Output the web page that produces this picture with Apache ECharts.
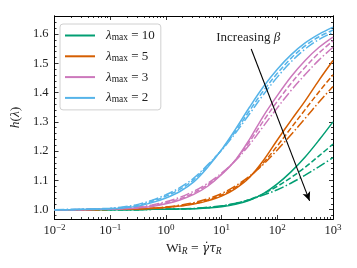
<!DOCTYPE html>
<html><head><meta charset="utf-8">
<script src="https://cdn.jsdelivr.net/npm/echarts@6/dist/echarts.min.js"></script>
<style>html,body{margin:0;padding:0;background:#fff}#c{width:357px;height:268px}</style>
</head><body><div id="c"></div>
<script>
// Wi_R sample points (quarter decades)
const wi = [0.01, 0.01778, 0.03162, 0.05623, 0.1, 0.1778, 0.3162, 0.5623, 1, 1.778, 3.162, 5.623, 10, 17.78, 31.62, 56.23, 100, 177.8, 316.2, 562.3, 1000];
const lambdaMax = ['10', '5', '3', '2'];
// h(lambda) for each lambda_max, three beta values (solid, dashed, dash-dot)
const g1 = [1,1,1,1,1,1,1.000,1.001,1.001,1.002,1.003,1.006,1.010,1.018,1.032,1.055,1.088,1.130,1.180,1.238,1.300];
const g2 = [1,1,1,1,1,1,1.000,1.001,1.001,1.002,1.004,1.007,1.012,1.021,1.035,1.054,1.080,1.110,1.145,1.184,1.224];
const g3 = [1,1,1,1,1,1,1.000,1.001,1.002,1.003,1.004,1.008,1.013,1.022,1.034,1.050,1.068,1.091,1.118,1.147,1.178];
const o1 = [1.000,1.000,1.000,1.000,1.001,1.001,1.002,1.004,1.007,1.012,1.019,1.030,1.046,1.072,1.110,1.168,1.238,1.306,1.372,1.443,1.510];
const o2 = [1.000,1.000,1.000,1.000,1.001,1.002,1.003,1.005,1.008,1.013,1.021,1.033,1.050,1.076,1.112,1.160,1.218,1.280,1.342,1.403,1.461];
const o3 = [1.000,1.000,1.000,1.001,1.001,1.002,1.003,1.005,1.009,1.015,1.024,1.037,1.055,1.081,1.114,1.155,1.204,1.257,1.312,1.368,1.421];
const p1 = [1.000,1.000,1.000,1.001,1.002,1.003,1.006,1.011,1.020,1.033,1.052,1.080,1.120,1.170,1.240,1.320,1.390,1.455,1.510,1.555,1.590];
const p2 = [1.000,1.000,1.000,1.001,1.002,1.004,1.007,1.013,1.023,1.037,1.057,1.085,1.122,1.170,1.232,1.303,1.370,1.432,1.487,1.536,1.577];
const p3 = [1.000,1.000,1.001,1.002,1.003,1.005,1.009,1.016,1.027,1.042,1.063,1.090,1.125,1.168,1.222,1.285,1.348,1.408,1.462,1.512,1.555];
const b1 = [1.000,1.000,1.001,1.002,1.003,1.006,1.012,1.024,1.040,1.062,1.095,1.145,1.205,1.275,1.350,1.420,1.480,1.530,1.570,1.600,1.624];
const b2 = [1.000,1.000,1.001,1.002,1.004,1.008,1.015,1.028,1.046,1.069,1.102,1.150,1.205,1.268,1.338,1.406,1.466,1.518,1.560,1.591,1.614];
const b3 = [1.000,1.001,1.001,1.003,1.005,1.010,1.018,1.032,1.051,1.075,1.108,1.153,1.203,1.262,1.327,1.393,1.453,1.506,1.549,1.582,1.606];
// tick values
const xMajor = [0.01, 0.1, 1, 10, 100, 1000];
const xMinor = [];
for (let d = 0.01; d < 1000; d *= 10) for (let k = 2; k <= 9; k++) xMinor.push(+(d * k).toPrecision(3));
const yMajor = [1.0, 1.1, 1.2, 1.3, 1.4, 1.5, 1.6];
const yMinor = [0.98, 1.02, 1.04, 1.06, 1.08, 1.12, 1.14, 1.16, 1.18, 1.22, 1.24, 1.26, 1.28, 1.32, 1.34, 1.36, 1.38, 1.42, 1.44, 1.46, 1.48, 1.52, 1.54, 1.56, 1.58, 1.62, 1.64, 1.66];
// annotation (data units)
const arrowStart = [34, 1.549];
const arrowEnd = [380, 1.030];
const textPos = [30, 1.587];

const families = [
  { lam: '10', color: '#029E73', data: [g1, g2, g3] },
  { lam: '5', color: '#D55E00', data: [o1, o2, o3] },
  { lam: '3', color: '#CC78BC', data: [p1, p2, p3] },
  { lam: '2', color: '#56B4E9', data: [b1, b2, b3] }
];
const dashTypes = ['solid', [5.5, 2.4], [9.6, 2.4, 1.5, 2.4]];
const SERIF = 'Liberation Serif';
const MATH = 'DejaVu Serif';

const series = [];
families.forEach(f => {
  f.data.forEach((vals, k) => {
    series.push({
      type: 'line',
      name: k === 0 ? f.lam : f.lam + '_' + k,
      xAxisIndex: 0, yAxisIndex: 0,
      data: wi.map((x, i) => [x, vals[i]]),
      showSymbol: false, symbol: 'none',
      smooth: 0.35,
      clip: true,
      color: f.color,
      lineStyle: { width: 1.5, type: dashTypes[k], color: f.color },
      emphasis: { disabled: true },
      animation: false
    });
  });
});
series.push({
  type: 'line', name: 'annot', xAxisIndex: 0, yAxisIndex: 0, data: [],
  animation: false,
  markLine: {
    silent: true, animation: false,
    symbol: ['none', 'arrow'], symbolSize: [6, 9],
    lineStyle: { color: '#000', width: 1.1, type: 'solid' },
    label: { show: false },
    data: [[{ coord: arrowStart }, { coord: arrowEnd }]]
  },
  markPoint: {
    silent: true, animation: false, symbol: 'circle', symbolSize: 0,
    data: [{ coord: textPos }],
    label: {
      show: true, position: 'inside',
      formatter: '{a|Increasing }{b|β}',
      rich: {
        a: { fontFamily: SERIF, fontSize: 13, color: '#222' },
        b: { fontFamily: SERIF, fontSize: 13, fontStyle: 'italic', color: '#222' }
      }
    }
  }
});

const lineAxis = { show: true, lineStyle: { color: '#000', width: 1 } };
function xAx(pos, ticks, len, labels) {
  return {
    type: 'log', logBase: 10, min: 0.01, max: 1000, position: pos, gridIndex: 0,
    axisLine: lineAxis,
    axisTick: { show: true, inside: true, length: len, customValues: ticks, lineStyle: { color: '#000', width: 0.8 } },
    splitLine: { show: false }, minorTick: { show: false },
    axisLabel: labels ? {
      show: true, customValues: xMajor, margin: 4,
      formatter: v => {
        const e = Math.round(Math.log10(v));
        return '{b|10}{s|' + (e < 0 ? '−' + (-e) : e) + '}';
      },
      rich: {
        b: { fontFamily: SERIF, fontSize: 12.5, color: '#222', lineHeight: 15 },
        s: { fontFamily: SERIF, fontSize: 9, color: '#222', lineHeight: 7, verticalAlign: 'top' }
      }
    } : { show: false },
    name: labels ? '{r|Wi}{s|R}{r| = }{i|γ̇τ}{s|R}' : '',
    nameLocation: 'middle', nameGap: 19,
    nameTextStyle: {
      rich: {
        r: { fontFamily: SERIF, fontSize: 13.5, color: '#222', lineHeight: 16 },
        i: { fontFamily: MATH, fontSize: 12, fontStyle: 'italic', color: '#222', lineHeight: 16 },
        s: { fontFamily: SERIF, fontSize: 9.5, fontStyle: 'italic', color: '#222', lineHeight: 8, verticalAlign: 'bottom' }
      }
    }
  };
}
function yAx(pos, ticks, len, labels) {
  return {
    type: 'value', min: 0.968, max: 1.662, position: pos, gridIndex: 0,
    axisLine: lineAxis,
    axisTick: { show: true, inside: true, length: len, customValues: ticks, lineStyle: { color: '#000', width: 0.8 } },
    splitLine: { show: false },
    axisLabel: labels ? {
      show: true, customValues: yMajor, margin: 6,
      formatter: v => v.toFixed(1),
      fontFamily: SERIF, fontSize: 12.5, color: '#222'
    } : { show: false },
    name: labels ? '{i|h}{r|(}{i|λ}{r|)}' : '',
    nameLocation: 'middle', nameGap: 24,
    nameTextStyle: {
      rich: {
        r: { fontFamily: SERIF, fontSize: 13.5, color: '#222' },
        i: { fontFamily: SERIF, fontSize: 13.5, fontStyle: 'italic', color: '#222' }
      }
    }
  };
}

const chart = echarts.init(document.getElementById('c'), null, { renderer: 'canvas' });
chart.setOption({
  animation: false,
  backgroundColor: '#fff',
  grid: { left: 54, right: 24, top: 16, bottom: 49, containLabel: false },
  xAxis: [xAx('bottom', xMajor, 4, true), xAx('bottom', xMinor, 2, false), xAx('top', xMajor, 4, false), xAx('top', xMinor, 2, false)],
  yAxis: [yAx('left', yMajor, 4, true), yAx('left', yMinor, 2, false), yAx('right', yMajor, 4, false), yAx('right', yMinor, 2, false)],
  legend: {
    show: true, left: 60, top: 24, orient: 'vertical',
    data: lambdaMax,
    icon: 'rect', itemWidth: 30, itemHeight: 2, itemGap: 7.3,
    padding: [5, 6, 5, 5],
    backgroundColor: 'rgba(255,255,255,0.85)',
    borderColor: '#d0d0d0', borderWidth: 1, borderRadius: 3,
    selectedMode: false,
    formatter: n => '{l|λ}{s|max}{e| = ' + n + '}',
    textStyle: {
      padding: [0, 0, 0, 6],
      rich: {
        l: { fontFamily: SERIF, fontSize: 13, fontStyle: 'italic', color: '#222', lineHeight: 14 },
        s: { fontFamily: SERIF, fontSize: 9.5, color: '#222', lineHeight: 6, verticalAlign: 'bottom' },
        e: { fontFamily: SERIF, fontSize: 13, color: '#222', lineHeight: 14 }
      }
    }
  },
  series: series
});
</script>
</body></html>
